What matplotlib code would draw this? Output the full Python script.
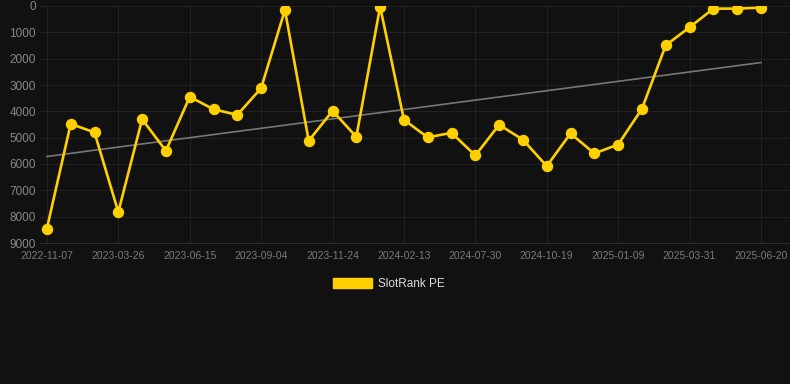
import numpy as np
import matplotlib
matplotlib.use("Agg")
import matplotlib.pyplot as plt
from matplotlib.patches import Patch

series_name = "SlotRank PE"
values = [8450, 4475, 4800, 7825, 4300, 5500, 3450, 3920, 4135, 3120,
          150, 5120, 3980, 4970, 25, 4320, 4990, 4815, 5675, 4510,
          5080, 6080, 4840, 5600, 5260, 3905, 1490, 810, 100, 100, 60]
tick_labels = ["2022-11-07", "2023-03-26", "2023-06-15", "2023-09-04",
               "2023-11-24", "2024-02-13", "2024-07-30", "2024-10-19",
               "2025-01-09", "2025-03-31", "2025-06-20"]
y_ticks = [0, 1000, 2000, 3000, 4000, 5000, 6000, 7000, 8000, 9000]

plt.rcParams['font.family'] = ['Liberation Sans', 'DejaVu Sans']
bg = "#111111"
fig = plt.figure(figsize=(7.9, 3.84), dpi=100, facecolor=bg)
ax = fig.add_axes([40/790, 1 - 243/384, 750/790, 237/384])
ax.set_facecolor(bg)

x = np.arange(len(values))
coef = np.polyfit(x, values, 1)
ax.plot(x, np.polyval(coef, x), color="#777777", lw=1.2, zorder=2)
ax.plot(x, values, color="#FFD000", lw=1.9, marker="o", ms=7.2,
        markerfacecolor="#FFD000", markeredgecolor="#FFD000", zorder=3)

ax.set_ylim(9000, 0)
ax.set_xlim(-0.29, 31.22)
ax.set_yticks(y_ticks)
ax.set_yticklabels([str(v) for v in y_ticks])
ax.set_xticks(np.arange(0, len(values), 3))
ax.set_xticklabels(tick_labels)
ax.grid(True, color="#212121", lw=0.8)
ax.set_axisbelow(True)
for s in ["top", "right", "left"]:
    ax.spines[s].set_visible(False)
ax.spines["bottom"].set_color("#2e2e2e")
ax.tick_params(axis="both", length=0, colors="#888888")
ax.tick_params(axis="x", pad=6, colors="#7a7a7a", labelsize=7.5)
ax.tick_params(axis="y", pad=3, labelsize=8.5)

handle = Patch(facecolor="#FFD000", edgecolor="#FFD000")
fig.legend([handle], [series_name], loc="center", bbox_to_anchor=(389/790, 1 - 284/384),
           frameon=False, handlelength=3.3, handleheight=0.95, handletextpad=0.5,
           fontsize=8.5, labelcolor="#dddddd")

fig.savefig("out.png", dpi=100, facecolor=bg)
